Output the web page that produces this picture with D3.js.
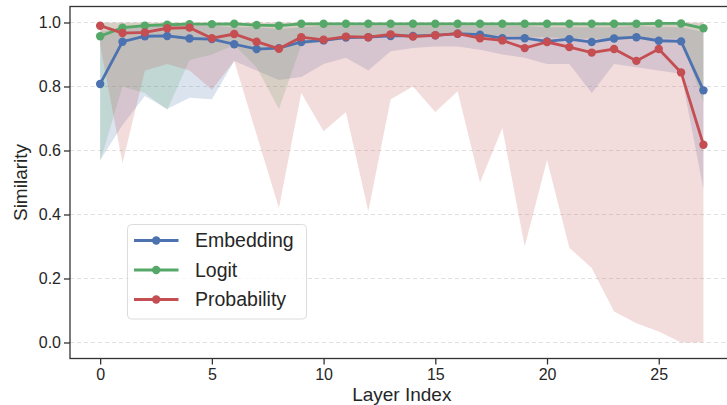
<!DOCTYPE html>
<meta charset="utf-8">
<style>
  body { margin: 0; background: #fff; }
  svg text { font-family: "Liberation Sans", Arial, sans-serif; fill: #262626; }
  .grid line { stroke: #d9d9d9; stroke-dasharray: 4,3; stroke-width: 0.8px; }
  .axis path, .axis line { stroke: #333; stroke-width: 1.3px; }
  .axis text { font-size: 16px; }
</style>
<body>
<script src="https://cdn.jsdelivr.net/npm/d3@7"></script>
<script>

  // layer indices on the x axis
  var layers = [0, 1, 2, 3, 4, 5, 6, 7, 8, 9, 10, 11, 12, 13, 14, 15, 16, 17, 18, 19, 20, 21, 22, 23, 24, 25, 26, 27];

  // mean similarity per layer
  var embedding = [0.808, 0.940, 0.957, 0.958, 0.950, 0.948, 0.932, 0.917, 0.920, 0.939, 0.944, 0.953, 0.954, 0.958,
                   0.958, 0.960, 0.965, 0.962, 0.951, 0.951, 0.941, 0.948, 0.939, 0.950, 0.954, 0.943, 0.941, 0.788];
  var logit = [0.957, 0.984, 0.990, 0.993, 0.995, 0.995, 0.996, 0.992, 0.990, 0.996, 0.996, 0.996, 0.996, 0.996,
               0.996, 0.996, 0.996, 0.996, 0.996, 0.996, 0.996, 0.996, 0.996, 0.996, 0.996, 0.997, 0.997, 0.982];
  var probability = [0.990, 0.967, 0.969, 0.982, 0.984, 0.951, 0.964, 0.940, 0.918, 0.954, 0.946, 0.956, 0.954, 0.963,
                     0.956, 0.960, 0.965, 0.951, 0.944, 0.920, 0.939, 0.923, 0.906, 0.917, 0.880, 0.917, 0.844, 0.618];

  // min / max bands
  var embeddingLow = [0.57, 0.68, 0.77, 0.73, 0.765, 0.76, 0.88, 0.85, 0.82, 0.83, 0.87, 0.89, 0.85, 0.91,
                      0.92, 0.925, 0.925, 0.915, 0.90, 0.89, 0.87, 0.87, 0.78, 0.87, 0.86, 0.85, 0.84, 0.48];
  var embeddingHigh = [0.97, 0.985, 0.99, 0.99, 0.99, 0.99, 0.985, 0.985, 0.98, 0.985, 0.99, 0.99, 0.99, 0.99,
                       0.99, 0.99, 0.99, 0.99, 0.99, 0.99, 0.985, 0.985, 0.985, 0.985, 0.99, 0.985, 0.985, 0.97];
  var logitLow = [0.566, 0.80, 0.78, 0.727, 0.883, 0.90, 0.93, 0.86, 0.73, 0.93, 0.94, 0.95, 0.95, 0.96,
                  0.96, 0.965, 0.965, 0.96, 0.96, 0.955, 0.955, 0.95, 0.95, 0.95, 0.95, 0.95, 0.95, 0.75];
  var logitHigh = [0.999, 0.999, 0.999, 0.999, 0.999, 0.999, 0.999, 0.999, 0.999, 0.999, 0.999, 0.999, 0.999, 0.999,
                   0.999, 0.999, 0.999, 0.999, 0.999, 0.999, 0.999, 0.999, 0.999, 0.999, 0.999, 0.999, 0.999, 0.998];
  var probabilityLow = [0.93, 0.56, 0.85, 0.87, 0.85, 0.79, 0.88, 0.65, 0.42, 0.78, 0.66, 0.72, 0.41, 0.76,
                        0.80, 0.72, 0.785, 0.50, 0.67, 0.30, 0.57, 0.296, 0.233, 0.097, 0.06, 0.034, 0.0, 0.0];
  var probabilityHigh = [1.0, 1.0, 1.0, 1.0, 1.0, 1.0, 1.0, 1.0, 1.0, 1.0, 1.0, 1.0, 1.0, 1.0,
                         1.0, 1.0, 1.0, 1.0, 1.0, 1.0, 1.0, 1.0, 1.0, 1.0, 1.0, 1.0, 1.0, 1.0];

  var xTicks = [0, 5, 10, 15, 20, 25];
  var yTicks = [0.0, 0.2, 0.4, 0.6, 0.8, 1.0];

  var series = [
    { name: "Embedding", color: "#4C72B0", mean: embedding, lo: embeddingLow, hi: embeddingHigh },
    { name: "Logit", color: "#55A868", mean: logit, lo: logitLow, hi: logitHigh },
    { name: "Probability", color: "#C44E52", mean: probability, lo: probabilityLow, hi: probabilityHigh }
  ];

  var width = 727, height = 405;
  // plot box (right spine falls just past the picture edge)
  var box = { left: 70, right: 733.6, top: 6.5, bottom: 358.5 };

  var svg = d3.select("body").append("svg")
    .attr("width", width)
    .attr("height", height);

  // matplotlib style 5% margins
  var x = d3.scaleLinear().domain([-1.35, 28.35]).range([box.left, box.right]);
  var y = d3.scaleLinear().domain([-0.05, 1.05]).range([box.bottom, box.top]);

  // dashed horizontal grid
  svg.append("g")
    .attr("class", "grid")
    .selectAll("line")
    .data(yTicks)
    .enter().append("line")
    .attr("x1", box.left).attr("x2", box.right)
    .attr("y1", function(d) { return y(d); })
    .attr("y2", function(d) { return y(d); });

  // bands first, lines on top
  var area = d3.area()
    .x(function(d) { return x(d.x); })
    .y0(function(d) { return y(d.lo); })
    .y1(function(d) { return y(d.hi); });

  series.forEach(function(s) {
    var pts = layers.map(function(l, i) { return { x: l, lo: s.lo[i], hi: s.hi[i] }; });
    svg.append("path")
      .datum(pts)
      .attr("d", area)
      .attr("fill", s.color)
      .attr("fill-opacity", 0.2);
  });

  var line = d3.line()
    .x(function(d) { return x(d.x); })
    .y(function(d) { return y(d.v); });

  series.forEach(function(s) {
    var pts = layers.map(function(l, i) { return { x: l, v: s.mean[i] }; });
    var g = svg.append("g");
    g.append("path")
      .datum(pts)
      .attr("d", line)
      .attr("fill", "none")
      .attr("stroke", s.color)
      .attr("stroke-width", 2.8);
    g.selectAll("circle")
      .data(pts)
      .enter().append("circle")
      .attr("cx", function(d) { return x(d.x); })
      .attr("cy", function(d) { return y(d.v); })
      .attr("r", 4.2)
      .attr("fill", s.color);
  });

  // axes
  var xAxis = svg.append("g")
    .attr("class", "axis")
    .attr("transform", "translate(0," + box.bottom + ")")
    .call(d3.axisBottom(x).tickValues(xTicks).tickSize(6).tickPadding(4).tickSizeOuter(0));
  xAxis.select(".domain").remove();

  var yAxis = svg.append("g")
    .attr("class", "axis")
    .attr("transform", "translate(" + box.left + ",0)")
    .call(d3.axisLeft(y).tickValues(yTicks).tickFormat(d3.format(".1f")).tickSize(6).tickPadding(3).tickSizeOuter(0));
  yAxis.select(".domain").remove();

  // spines
  svg.append("rect")
    .attr("x", box.left).attr("y", box.top)
    .attr("width", box.right - box.left).attr("height", box.bottom - box.top)
    .attr("fill", "none")
    .attr("stroke", "#333")
    .attr("stroke-width", 1.3);

  svg.append("text")
    .attr("x", (box.left + box.right) / 2)
    .attr("y", 401)
    .attr("text-anchor", "middle")
    .style("font-size", "19px")
    .text("Layer Index");

  svg.append("text")
    .attr("transform", "translate(27," + ((box.top + box.bottom) / 2) + ") rotate(-90)")
    .attr("text-anchor", "middle")
    .style("font-size", "19px")
    .text("Similarity");

  // legend
  var legend = svg.append("g").attr("transform", "translate(127.5,224.5)");
  legend.append("rect")
    .attr("width", 179)
    .attr("height", 94.5)
    .attr("rx", 4)
    .attr("fill", "#fff")
    .attr("fill-opacity", 0.8)
    .attr("stroke", "#dcdcdc");

  var row = legend.selectAll(".row")
    .data(series)
    .enter().append("g")
    .attr("transform", function(d, i) { return "translate(0," + (16 + i * 29.5) + ")"; });
  row.append("line")
    .attr("x1", 6.5).attr("x2", 51)
    .attr("stroke", function(d) { return d.color; })
    .attr("stroke-width", 2.8);
  row.append("circle")
    .attr("cx", 28.7)
    .attr("r", 4.2)
    .attr("fill", function(d) { return d.color; });
  row.append("text")
    .attr("x", 67.5)
    .attr("dy", "0.35em")
    .style("font-size", "19.5px")
    .text(function(d) { return d.name; });

</script>
</body>
